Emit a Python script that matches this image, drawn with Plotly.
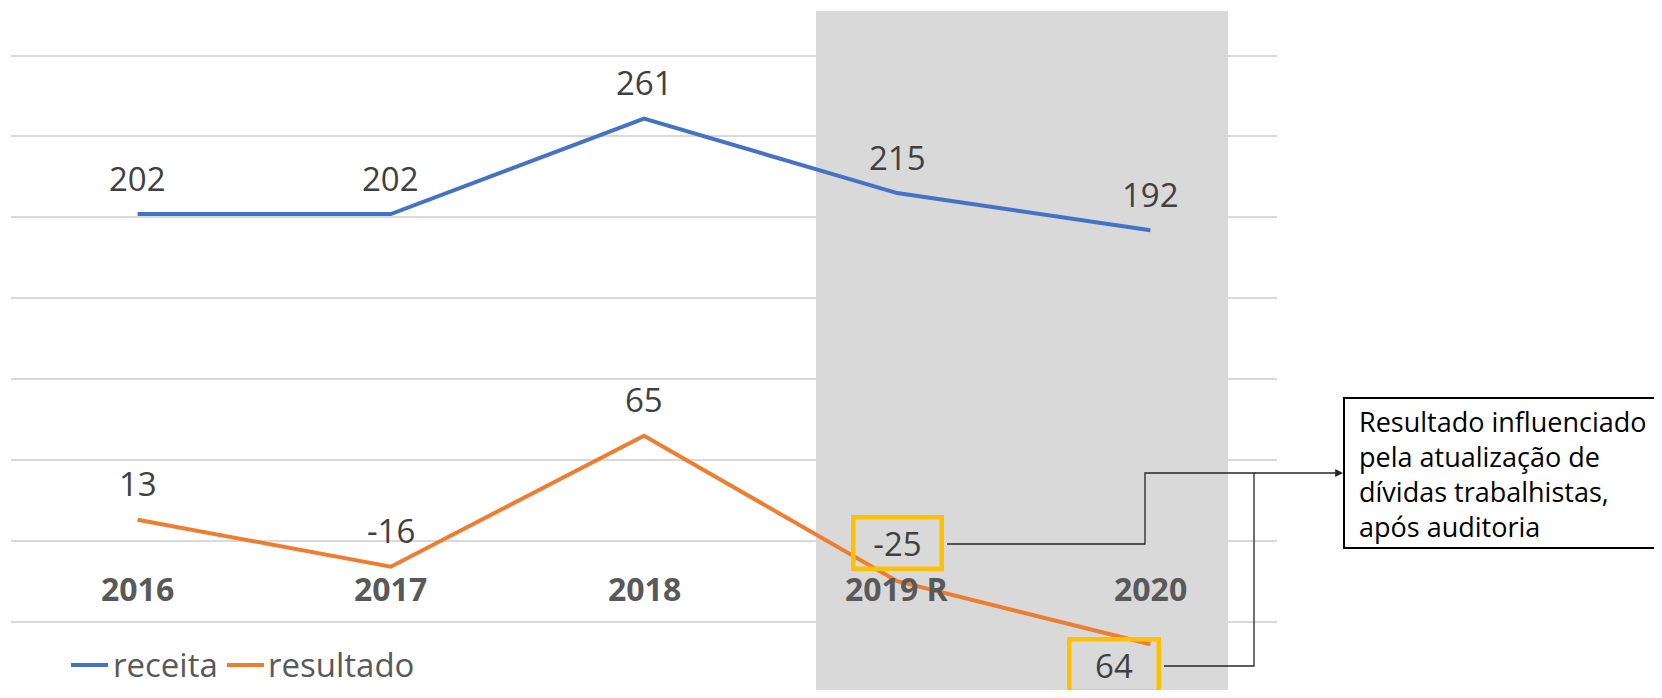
import plotly.graph_objects as go

categories = ["2016", "2017", "2018", "2019 R", "2020"]
receita = [202, 202, 261, 215, 192]
resultado = [13, -16, 65, -25, -64]
receita_labels = ["202", "202", "261", "215", "192"]
resultado_labels = ["13", "-16", "65", "-25", "64"]
y_ticks = [-50, 0, 50, 100, 150, 200, 250, 300]
series_names = ["receita", "resultado"]
note_text = "Resultado influenciado<br>pela atualização de<br>dívidas trabalhistas,<br>após auditoria"

# page body has an 8px default margin; compensate (and avoid page overflow)
O = 8
W, H = 1662 - O, 698 - 2 * O
ML, MR, MT, MB = 11 - O, 385, 46, 36
PW, PH = W - ML - MR, H - MT - MB

def px(x):
    return (x - O - ML) / PW

def py(y):
    return (H - MB - (y - O)) / PH

FONT = "Open Sans"
BLUE = "#4472C4"
ORANGE = "#ED7D31"
xs = list(range(len(categories)))

fig = go.Figure()
fig.add_trace(go.Scatter(x=xs, y=receita, mode="lines", name=series_names[0],
                         line=dict(color=BLUE, width=4)))
fig.add_trace(go.Scatter(x=xs, y=resultado, mode="lines", name=series_names[1],
                         line=dict(color=ORANGE, width=4)))

ann = []
for i, (v, t) in enumerate(zip(receita, receita_labels)):
    ann.append(dict(x=i, y=v, xref="x", yref="y", text=t, showarrow=False,
                    yshift=36, font=dict(family=FONT, size=33, color="#404040")))
for i, (v, t) in enumerate(zip(resultado, resultado_labels)):
    a = dict(x=i, y=v, xref="x", yref="y", text=t, showarrow=False,
             yshift=36, font=dict(family=FONT, size=33, color="#404040"))
    if i == 3:
        a.update(yshift=38, bordercolor="#FFC000", borderwidth=4.5, borderpad=2,
                 width=80, height=43)
    if i == 4:
        a.update(yshift=-21, xshift=-36, bordercolor="#FFC000", borderwidth=4.5,
                 borderpad=2, width=81, height=44)
    ann.append(a)
for i, c in enumerate(categories):
    ann.append(dict(x=i, y=0, xref="x", yref="y", text="<b>%s</b>" % c,
                    showarrow=False, yshift=-48,
                    font=dict(family=FONT, size=32, color="#595959")))

ann.append(dict(x=px(1357), y=py(474), xref="paper", yref="paper", text=note_text,
                showarrow=False, xanchor="left", yanchor="middle", align="left",
                font=dict(family=FONT, size=27, color="#000000")))
ann.append(dict(x=px(1343), y=py(473), xref="paper", yref="paper", text="",
                showarrow=True, ax=-89, ay=0, arrowhead=2, arrowsize=1.2,
                arrowwidth=1.3, arrowcolor="#262626"))

shapes = [
    dict(type="rect", xref="paper", yref="paper", x0=px(816), x1=px(1228),
         y0=py(692), y1=py(11), fillcolor="#D9D9D9", line=dict(width=0),
         layer="between"),
    dict(type="rect", xref="paper", yref="paper", x0=px(1344), x1=px(1661),
         y0=py(548), y1=py(398), line=dict(color="#000000", width=2),
         fillcolor="rgba(0,0,0,0)"),
    dict(type="path", xref="paper", yref="paper",
         path="M %f,%f H %f V %f H %f" % (px(947), py(544), px(1145), py(473), px(1256)),
         line=dict(color="#262626", width=1.3)),
    dict(type="path", xref="paper", yref="paper",
         path="M %f,%f H %f V %f" % (px(1164), py(666), px(1254), py(473)),
         line=dict(color="#262626", width=1.3)),
]

legend_items = [(series_names[0], BLUE, 71, 108, 111), (series_names[1], ORANGE, 227, 264, 266)]
for name, col, lx0, lx1, tx in legend_items:
    shapes.append(dict(type="line", xref="paper", yref="paper", x0=px(lx0), x1=px(lx1),
                       y0=py(665), y1=py(665), line=dict(color=col, width=4)))
    ann.append(dict(x=px(tx), y=py(664), xref="paper", yref="paper", text=name,
                    showarrow=False, xanchor="left", yanchor="middle",
                    font=dict(family=FONT, size=33, color="#595959")))

fig.update_layout(
    width=W, height=H,
    margin=dict(l=ML, r=MR, t=MT, b=MB, pad=0),
    paper_bgcolor="white", plot_bgcolor="white",
    font=dict(family=FONT, color="#595959"),
    xaxis=dict(range=[-0.5, 4.5], showticklabels=False, showgrid=False,
               zeroline=False, showline=False, ticks=""),
    yaxis=dict(range=[-70, 301], tickvals=y_ticks, showticklabels=False,
               showgrid=True, gridcolor="#D9D9D9", gridwidth=1.5,
               zeroline=False, showline=False, ticks=""),
    showlegend=False,
    annotations=ann,
    shapes=shapes,
)

fig.write_html("out.html")
